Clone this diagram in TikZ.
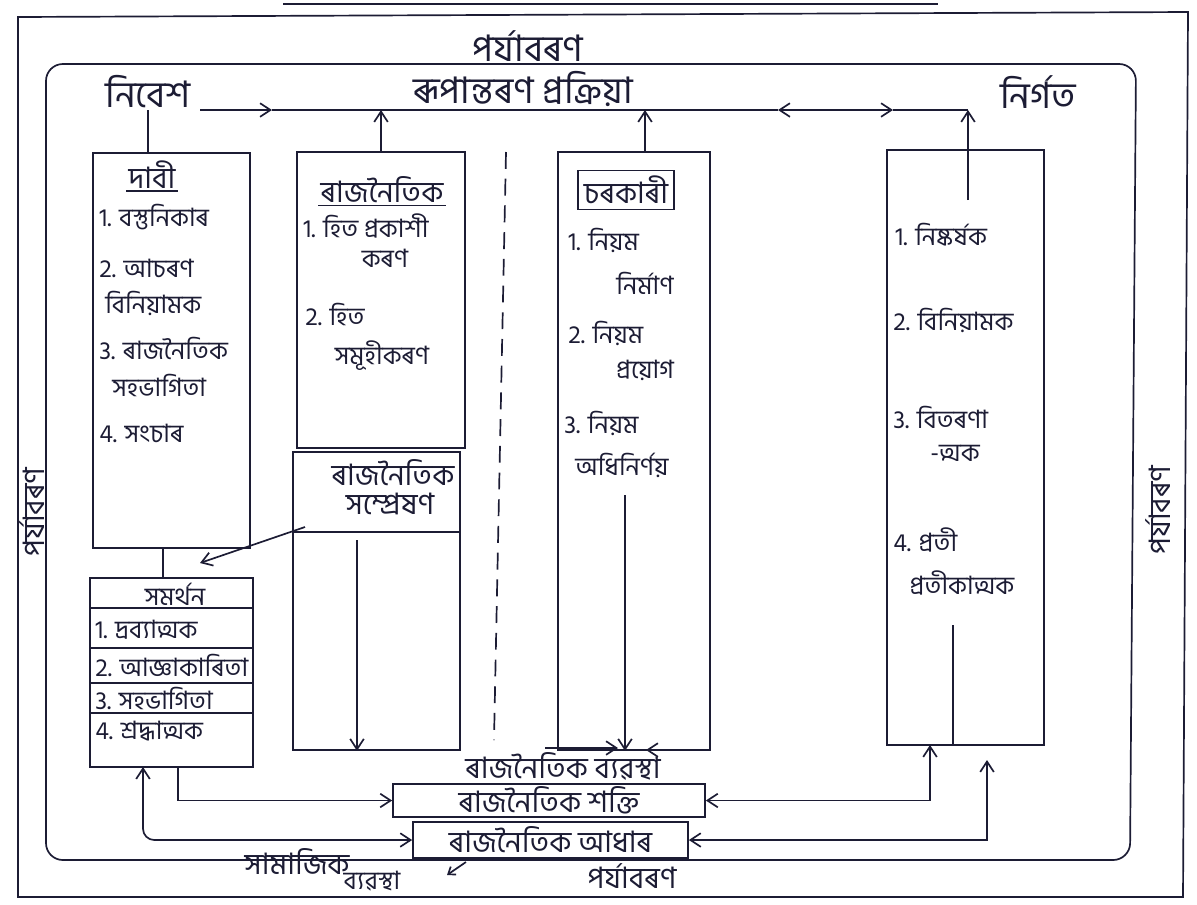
\documentclass[tikz,border=0pt]{standalone}
\usepackage{fontspec}
\setmainfont[Script=Bengali]{Hind Siliguri}
\usetikzlibrary{arrows.meta, positioning, fit}
\definecolor{inkcolor}{RGB}{28,28,52}

\begin{document}
\begin{tikzpicture}[x=0.025cm, y=-0.025cm, >={Straight Barb[length=2.6mm,width=3.4mm]},
    line width=1.2pt, color=inkcolor, font=\fontsize{18}{20}\selectfont,
    box/.style={draw, inner sep=0pt, fit={#1}},
    txt/.style={inner sep=1pt},
    big/.style={inner sep=1pt, font=\fontsize{26}{28}\selectfont},
    mid/.style={inner sep=1pt, font=\fontsize{21}{24}\selectfont},
    item/.style={anchor=west, inner sep=1pt}]
    \useasboundingbox (0,0) rectangle (1197,904);

    % Outer frame and title rule
    \draw[line width=2pt] (283,4) -- (938,4);
    \draw (18,17) -- (1188,12) -- (1183,897) -- (18,897) -- cycle;
    % Inner frame (system boundary)
    \draw[rounded corners=12] (46,860) -- (46,64) -- (1136,64) -- (1130,860) -- cycle;

    % Environment labels
    \node[big] (envT) at (528,46) {পৰ্যাবৰণ};
    \node[mid, rotate=90] (envL) at (32,512) {পৰ্যাবৰণ};
    \node[mid, rotate=90] (envR) at (1158,510) {পৰ্যাবৰণ};
    \node[mid] (envB) at (632,876) {পৰ্যাবৰণ};
    \node[mid] (socA) at (297,861) {সামাজিক};
    \node[txt] (socB) at (372,881) {ব্যৱস্থা};

    % Inputs, conversion and outputs
    \node[big] (nibesh) at (148,92) {নিবেশ};
    \node[big] (rupantar) at (523,89) {ৰূপান্তৰণ প্ৰক্ৰিয়া};
    \node[big] (nirgata) at (1038,92) {নিৰ্গত};

    % Boxes
    \node[box={(93,153) (250,548)}] (demand) {};
    \node[box={(90,578) (253,767)}] (support) {};
    \node[box={(297,152) (465,448)}] (polbox) {};
    \node[box={(293,452) (460,750)}] (commbox) {};
    \node[box={(558,152) (710,750)}] (govbox) {};
    \node[box={(887,150) (1044,745)}] (outbox) {};
    \node[box={(393,784) (705,817)}] (shakti) {};
    \node[box={(413,822) (688,858)}] (adhar) {};

    % Demands
    \node[mid] (dHead) at (152,175) {দাবী};
    \draw (dHead.south west) -- (dHead.south east);
    \node[item] (d1) at (97,217) {1. বস্তুনিকাৰ};
    \node[item] (d2) at (97,268) {2. আচৰণ};
    \node[item] (d2b) at (103,303) {বিনিয়ামক};
    \node[item] (d3) at (97,348) {3. ৰাজনৈতিক};
    \node[item] (d3b) at (110,385) {সহভাগিতা};
    \node[item] (d4) at (97,433) {4. সংচাৰ};

    % Supports
    \node[txt] (sHead) at (175,594) {সমৰ্থন};
    \foreach \y in {608,648,683,713}
        \draw (support.west |- 0,\y) -- (support.east |- 0,\y);
    \node[item] (s1) at (93,630) {1. দ্ৰব্যাত্মক};
    \node[item] (s2) at (93,665) {2. আজ্ঞাকাৰিতা};
    \node[item] (s3) at (93,698) {3. সহভাগিতা};
    \node[item] (s4) at (93,731) {4. শ্ৰদ্ধাত্মক};

    % Political functions
    \node[mid] (pHead) at (382,190) {ৰাজনৈতিক};
    \draw (pHead.south west) -- (pHead.south east);
    \node[item] (p1) at (301,226) {1. হিত প্ৰকাশী};
    \node[txt] (p1b) at (385,258) {কৰণ};
    \node[item] (p2) at (303,314) {2. হিত};
    \node[txt] (p2b) at (382,356) {সমূহীকৰণ};
    \node[mid] (c1) at (393,473) {ৰাজনৈতিক};
    \node[mid] (c2) at (390,504) {সম্প্ৰেষণ};
    \draw (commbox.west |- 0,532) -- (commbox.east |- 0,532);

    % Governmental functions
    \node[mid, draw, inner sep=4pt] (gHead) at (626,190) {চৰকাৰী};
    \node[item] (g1) at (566,240) {1. নিয়ম};
    \node[txt] (g1b) at (645,283) {নিৰ্মাণ};
    \node[item] (g2) at (566,333) {2. নিয়ম};
    \node[txt] (g2b) at (645,370) {প্ৰয়োগ};
    \node[item] (g3) at (562,423) {3. নিয়ম};
    \node[txt] (g3b) at (622,465) {অধিনিৰ্ণয়};

    % Outputs
    \node[item] (o1) at (893,235) {1. নিষ্কৰ্ষক};
    \node[item] (o2) at (891,320) {2. বিনিয়ামক};
    \node[item] (o3) at (891,417) {3. বিতৰণা};
    \node[txt] (o3b) at (955,453) {-ত্মক};
    \node[item] (o4) at (891,540) {4. প্ৰতী};
    \node[txt] (o4b) at (962,583) {প্ৰতীকাত্মক};

    % Bottom structures
    \node[mid] (system) at (563,767) {ৰাজনৈতিক ব্যৱস্থা};
    \node[mid] at (shakti) {ৰাজনৈতিক শক্তি};
    \node[mid] at (adhar) {ৰাজনৈতিক আধাৰ};

    % Dashed divider
    \draw[dashed, dash pattern=on 12pt off 7pt] (506,152) -- (494,740);

    % Flow along the top
    \coordinate (fA) at (200,110);
    \coordinate (fB) at (272,110);
    \coordinate (fC) at (778,110);
    \coordinate (fD) at (893,110);
    \coordinate (fE) at (968,110);
    \draw[->] (fA) -- (fB);
    \draw (fB) -- (fC);
    \draw[<->] (fC) -- (fD);
    \draw (fD) -- (fE);
    \draw (nibesh.south) -- (nibesh.south |- demand.north);
    \draw[->] (polbox.north) -- (polbox.north |- fA);
    \coordinate (gUp) at (645,152);
    \draw[->] (gUp) -- (gUp |- fA);
    \coordinate (oUp) at (968,200);
    \draw[->] (oUp) -- (fE);

    % Arrows inside the columns
    \coordinate (cTail) at (305,527);
    \coordinate (sTip) at (200,563);
    \draw[->] (cTail) -- (sTip);
    \coordinate (dsA) at (163,548);
    \draw (dsA) -- (dsA |- support.north);
    \coordinate (cDown) at (357,540);
    \draw[->] (cDown) -- (cDown |- commbox.south);
    \coordinate (gDown) at (625,495);
    \draw[->] (gDown) -- (gDown |- govbox.south);
    \coordinate (gbL) at (545,748);
    \coordinate (gbLt) at (618,748);
    \coordinate (gbR) at (702,750);
    \coordinate (gbRt) at (646,750);
    \draw[->] (gbL) -- (gbLt);
    \draw[->] (gbR) -- (gbRt);
    \coordinate (oLine) at (953,625);
    \draw (oLine) -- (oLine |- outbox.south);

    % Feedback to the bottom boxes
    \coordinate (sA1) at (178,767);
    \coordinate (sA2) at (143,767);
    \draw[->] (sA1) |- (shakti.west);
    \draw[<->, rounded corners=8] (sA2) |- (adhar.west);
    \coordinate (oA1) at (930,745);
    \coordinate (oA2) at (987,760);
    \draw[<->] (shakti.east) -| (oA1);
    \draw[<->] (adhar.east) -| (oA2);
    \coordinate (aS) at (466,862);
    \coordinate (socTip) at (447,875);
    \draw[-{Straight Barb[length=1.6mm,width=2.4mm]}] (aS) -- (socTip);
\end{tikzpicture}
\end{document}
